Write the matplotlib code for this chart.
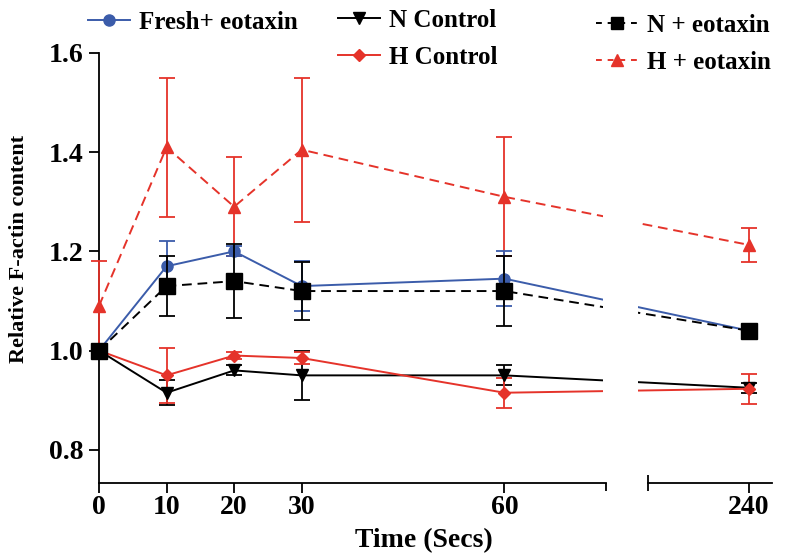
import numpy as np
import matplotlib
matplotlib.use("Agg")
import matplotlib.pyplot as plt
from matplotlib.lines import Line2D

plt.rcParams["font.family"] = ["Liberation Serif", "DejaVu Serif"]
plt.rcParams["font.weight"] = "bold"

# time points (seconds)
time = [0, 10, 20, 30, 60, 240]

fresh_eo = [1.00, 1.17, 1.20, 1.13, 1.145, 1.04]
fresh_eo_err = [0, 0.05, 0.01, 0.05, 0.055, 0]
n_ctrl = [1.00, 0.915, 0.96, 0.95, 0.95, 0.925]
n_ctrl_err = [0, 0.025, 0.01, 0.05, 0.02, 0.01]
h_ctrl = [1.00, 0.95, 0.99, 0.985, 0.915, 0.923]
h_ctrl_err = [0, 0.055, 0.008, 0.012, 0.03, 0.03]
n_eo = [1.00, 1.13, 1.14, 1.12, 1.12, 1.04]
n_eo_err = [0, 0.06, 0.075, 0.058, 0.07, 0]
h_eo = [1.09, 1.41, 1.29, 1.405, 1.31, 1.213]
h_eo_err = [0.09, 0.14, 0.10, 0.145, 0.12, 0.035]

BLUE = "#3b5caa"
RED = "#e5332a"

# broken x axis: 0-75 then 225-243, gap squeezed
def fwd(t):
    t = np.asarray(t, dtype=float)
    return np.where(t <= 75, t,
                    np.where(t >= 225, t - 143.8, 75 + (t - 75) * 6.2 / 150))

def inv(p):
    p = np.asarray(p, dtype=float)
    return np.where(p <= 75, p,
                    np.where(p >= 81.2, p + 143.8, 75 + (p - 75) * 150 / 6.2))

fig = plt.figure(figsize=(8.03, 5.6), dpi=100)
ax = fig.add_axes([0.1233, 0.1375, 0.8381, 0.7679])
ax.set_xscale("function", functions=(fwd, inv))

ekw = dict(capsize=6, elinewidth=1.3, capthick=1.3, lw=1.4)
ax.errorbar(time, h_eo, yerr=h_eo_err, color=RED, ls=(0, (5, 3)), marker="^",
            ms=9, clip_on=False, zorder=3, **ekw)
ax.errorbar(time, fresh_eo, yerr=fresh_eo_err, color=BLUE, marker="o",
            ms=8, clip_on=False, zorder=3, **ekw)
ax.errorbar(time, n_eo, yerr=n_eo_err, color="black", ls=(0, (5, 3)), marker="s",
            ms=11, clip_on=False, zorder=4, **ekw)
ax.errorbar(time, n_ctrl, yerr=n_ctrl_err, color="black", marker="v",
            ms=8, clip_on=False, zorder=3, **ekw)
ax.errorbar(time, h_ctrl, yerr=h_ctrl_err, color=RED, marker="D",
            ms=6, clip_on=False, zorder=3, **ekw)

# mask the gap in the lines
ax.axvspan(74.6, inv(79.7), color="white", zorder=5, lw=0)

ax.set_xlim(0, float(inv(99.6)))
ax.set_ylim(0.733, 1.6)
ax.set_yticks([0.8, 1.0, 1.2, 1.4, 1.6])
ax.set_xticks(time)
ax.set_xticks([75, 225], minor=True)
ax.set_xticklabels([str(t) for t in time])

for s in ["top", "right", "bottom"]:
    ax.spines[s].set_visible(False)
ax.spines["left"].set_linewidth(1.3)
xt = ax.get_xaxis_transform()
ax.plot([0, 75], [0, 0], color="black", lw=1.3, transform=xt, clip_on=False, zorder=6)
ax.plot([225, float(inv(99.6))], [0, 0], color="black", lw=1.3, transform=xt,
        clip_on=False, zorder=6)

ax.tick_params(axis="both", which="major", direction="out", length=7, width=1.3,
               labelsize=20)
ax.tick_params(axis="x", which="major", pad=2)
ax.tick_params(axis="y", which="major", pad=4)
ax.tick_params(axis="x", which="minor", direction="inout", length=12, width=1.3)

ax.set_xlabel("Time (Secs)", fontsize=20, fontweight="bold")
ax.xaxis.set_label_coords(0.483, -0.105)
ax.set_ylabel("Relative F-actin content", fontsize=16, fontweight="bold")
ax.yaxis.set_label_coords(-0.104, 0.544)

legend_kw = dict(loc="upper left", frameon=False, fontsize=18, handlelength=1.7,
                 handletextpad=0.35, labelspacing=0.55, borderaxespad=0,
                 borderpad=0)

col1 = [Line2D([], [], color=BLUE, marker="o", ms=8, lw=1.4)]
col2 = [Line2D([], [], color="black", marker="v", ms=8, lw=1.4),
        Line2D([], [], color=RED, marker="D", ms=6, lw=1.4)]
col3 = [Line2D([], [], color="black", marker="s", ms=9, lw=1.4, ls=(0, (3, 3))),
        Line2D([], [], color=RED, marker="^", ms=8, lw=1.4, ls=(0, (3, 3)))]

leg1 = fig.legend(col1, ["Fresh+ eotaxin"], bbox_to_anchor=(88 / 803, 1 - 11 / 560),
                  **legend_kw)
leg2 = fig.legend(col2, ["N Control", "H Control"],
                  bbox_to_anchor=(338 / 803, 1 - 9 / 560), **legend_kw)
leg3 = fig.legend(col3, ["N + eotaxin", "H + eotaxin"],
                  bbox_to_anchor=(596 / 803, 1 - 14 / 560), **legend_kw)

fig.savefig("out.png", dpi=100)
